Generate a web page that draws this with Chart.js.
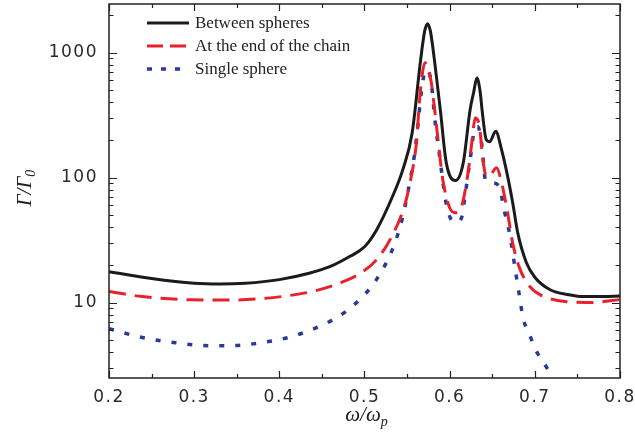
<!DOCTYPE html>
<html>
<head>
<meta charset="utf-8">
<script src="https://cdn.jsdelivr.net/npm/chart.js@4.4.1/dist/chart.umd.min.js"></script>
<style>
html,body{margin:0;padding:0;background:#fff;}
canvas{display:block;}
</style>
</head>
<body>
<canvas id="c" width="635" height="444"></canvas>
<script>
// ---- data ----
const seriesNames = ["Between spheres", "At the end of the chain", "Single sphere"];

const xBetween = [0.20,0.25,0.30,0.33,0.36,0.40,0.435,0.46,0.483,0.50,0.514,0.533,0.545,0.556,0.565,0.569,0.571,0.574,0.577,0.579,0.583,0.589,0.596,0.607,0.616,0.624,0.628,0.632,0.636,0.638,0.643,0.647,0.654,0.661,0.668,0.674,0.680,0.690,0.700,0.718,0.740,0.757,0.780,0.800];
const yBetween = [17.7,15.6,14.3,14.1,14.3,15.3,17.2,19.5,23.5,28,38,71,116,229,777,1270,1528,1706,1528,1270,777,350,132,95,132,350,476,627,476,350,201,194,235,167,103,63,36,21,16,12.7,11.6,11.2,11.2,11.3];

const xChainEnd = [0.20,0.239,0.297,0.341,0.38,0.411,0.443,0.478,0.494,0.514,0.534,0.548,0.555,0.561,0.565,0.571,0.578,0.581,0.585,0.592,0.600,0.607,0.614,0.621,0.626,0.630,0.635,0.639,0.643,0.648,0.655,0.661,0.668,0.674,0.682,0.694,0.706,0.737,0.765,0.800];
const yChainEnd = [12.3,11.2,10.55,10.5,10.8,11.4,12.5,15.0,17,22,36,63,103,191,447,830,600,420,242,96,57.5,52.5,59,103,191,300,257,139,103,105,120,91,52.5,30,19,13.5,11.6,10.2,10.05,10.6];

const xSingle = [0.20,0.239,0.278,0.317,0.341,0.38,0.415,0.454,0.478,0.50,0.514,0.534,0.545,0.553,0.559,0.563,0.567,0.572,0.578,0.583,0.589,0.595,0.602,0.608,0.614,0.618,0.624,0.630,0.633,0.638,0.642,0.650,0.659,0.663,0.671,0.677,0.683,0.686,0.693,0.701,0.712,0.715];
const ySingle = [6.2,5.27,4.79,4.53,4.53,4.8,5.37,6.8,8.5,11.6,15.3,28,49,91,158,275,500,731,600,275,135,67,46,44,48,71,139,251,255,178,96,91,83,59,34,18.4,10.2,7.6,5.75,4.2,3.19,2.95];

const xTickValues = [0.2,0.3,0.4,0.5,0.6,0.7,0.8];
const xMinorValues = [0.25,0.35,0.45,0.55,0.65,0.75];
const yLabelValues = [10,100,1000];
const yMinorValues = [3,4,5,6,7,8,9,20,30,40,50,60,70,80,90,200,300,400,500,600,700,800,900,2000];

const toPts = (xs, ys) => xs.map((x, i) => ({x: x, y: ys[i]}));

const styles = [
  {color:'#1b1b1b', width:3, dash:[]},
  {color:'#e8212b', width:3, dash:[17,9]},
  {color:'#2b3a94', width:3.5, dash:[5,11]}
];

const framePlugin = {
  id: 'frame',
  beforeDraw(chart) {
    chart.ctx.letterSpacing = '1.5px';
  },
  afterDraw(chart) {
    const ctx = chart.ctx;
    const a = chart.chartArea;
    const xs = chart.scales.x, ys = chart.scales.y;
    ctx.save();
    ctx.letterSpacing = '0px';
    ctx.strokeStyle = '#222';
    ctx.lineWidth = 1.5;
    ctx.setLineDash([]);
    ctx.strokeRect(a.left, a.top, a.right - a.left, a.bottom - a.top);
    ctx.lineWidth = 1.2;
    ctx.beginPath();
    const tickX = (v, len) => {
      const p = Math.round(xs.getPixelForValue(v)) + 0.5;
      ctx.moveTo(p, a.bottom); ctx.lineTo(p, a.bottom - len);
      ctx.moveTo(p, a.top); ctx.lineTo(p, a.top + len);
    };
    const tickY = (v, len) => {
      const p = Math.round(ys.getPixelForValue(v)) + 0.5;
      ctx.moveTo(a.left, p); ctx.lineTo(a.left + len, p);
      ctx.moveTo(a.right, p); ctx.lineTo(a.right - len, p);
    };
    xTickValues.forEach(v => tickX(v, 7));
    xMinorValues.forEach(v => tickX(v, 4));
    yLabelValues.forEach(v => tickY(v, 8));
    yMinorValues.forEach(v => tickY(v, 4.5));
    ctx.stroke();

    // legend
    ctx.font = '17px "Liberation Serif"';
    ctx.fillStyle = '#222';
    ctx.textBaseline = 'middle';
    const rows = [23, 46, 69];
    seriesNames.forEach((name, i) => {
      const s = styles[i];
      ctx.beginPath();
      ctx.strokeStyle = s.color;
      ctx.lineWidth = s.width;
      ctx.setLineDash(i === 1 ? [16,7] : (i === 2 ? [5,9] : []));
      ctx.moveTo(147, rows[i]); ctx.lineTo(189, rows[i]);
      ctx.stroke();
      ctx.setLineDash([]);
      ctx.fillText(name, 195, rows[i] + 1);
    });

    // x axis title: ω/ωp
    ctx.textBaseline = 'alphabetic';
    ctx.font = 'italic 21px "Liberation Serif"';
    const main = 'ω/ω';
    const mw = ctx.measureText(main).width;
    ctx.font = 'italic 14px "Liberation Serif"';
    const sw = ctx.measureText('p').width;
    const cx = (a.left + a.right) / 2 + 2;
    const sx = cx - (mw + sw) / 2;
    ctx.font = 'italic 21px "Liberation Serif"';
    ctx.fillText(main, sx, 421);
    ctx.font = 'italic 14px "Liberation Serif"';
    ctx.fillText('p', sx + mw, 426);

    // y axis title: Γ/Γ0
    ctx.save();
    ctx.translate(31, 188);
    ctx.rotate(-Math.PI / 2);
    ctx.font = 'italic 21px "Liberation Serif"';
    const ym = 'Γ/Γ';
    const ymw = ctx.measureText(ym).width;
    ctx.font = 'italic 14px "Liberation Serif"';
    const ysw = ctx.measureText('0').width;
    const ysx = -(ymw + ysw) / 2;
    ctx.font = 'italic 21px "Liberation Serif"';
    ctx.fillText(ym, ysx, 0);
    ctx.font = 'italic 14px "Liberation Serif"';
    ctx.fillText('0', ysx + ymw, 4);
    ctx.restore();

    ctx.restore();
  }
};

new Chart(document.getElementById('c'), {
  type: 'line',
  data: {
    datasets: [
      {label: seriesNames[0], data: toPts(xBetween, yBetween)},
      {label: seriesNames[1], data: toPts(xChainEnd, yChainEnd)},
      {label: seriesNames[2], data: toPts(xSingle, ySingle)}
    ].map((d, i) => Object.assign(d, {
      borderColor: styles[i].color,
      borderWidth: styles[i].width,
      borderDash: styles[i].dash,
      borderCapStyle: 'butt',
      pointRadius: 0,
      fill: false,
      cubicInterpolationMode: 'monotone'
    }))
  },
  options: {
    responsive: false,
    animation: false,
    devicePixelRatio: 1,
    layout: {padding: {left: 0, top: 4, right: 15, bottom: 0}},
    plugins: {legend: {display: false}, tooltip: {enabled: false}},
    scales: {
      x: {
        type: 'linear', min: 0.2, max: 0.8,
        afterFit: s => { s.height = 66; s.paddingLeft = 0; s.paddingRight = 0; s.paddingTop = 0; s.paddingBottom = 0; },
        afterBuildTicks: s => { s.ticks = xTickValues.map(v => ({value: v})); },
        grid: {display: false, drawTicks: false},
        border: {display: false},
        ticks: {
          padding: 9, color: '#2a2a2a', maxRotation: 0, autoSkip: false,
          font: {family: '"DejaVu Sans"', size: 17},
          callback: v => Number(v).toFixed(1)
        }
      },
      y: {
        type: 'logarithmic', min: 2.5, max: 2450,
        afterFit: s => { s.width = 109; s.paddingLeft = 0; s.paddingRight = 0; s.paddingTop = 0; s.paddingBottom = 0; },
        afterBuildTicks: s => { s.ticks = yLabelValues.map(v => ({value: v})); },
        grid: {display: false, drawTicks: false},
        border: {display: false},
        ticks: {
          padding: 11, color: '#2a2a2a', autoSkip: false,
          font: {family: '"DejaVu Sans"', size: 17},
          callback: v => String(v)
        }
      }
    }
  },
  plugins: [framePlugin]
});
</script>
</body>
</html>
